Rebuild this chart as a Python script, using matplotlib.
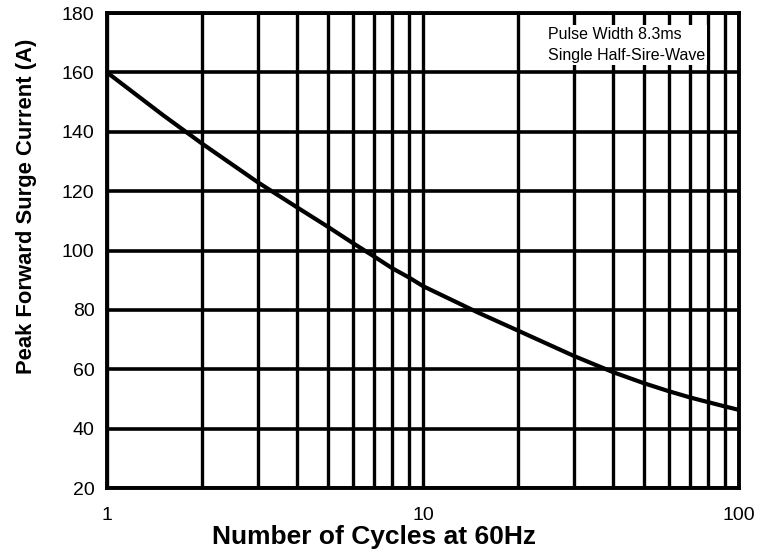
import matplotlib
matplotlib.use("Agg")
import matplotlib.pyplot as plt
from matplotlib.ticker import FixedLocator, NullFormatter

plt.rcParams['font.family'] = ['Liberation Sans', 'DejaVu Sans']

# surge current vs. number of cycles
cycles = [1, 1.5, 2, 3, 4, 5, 6, 7, 8, 9, 10, 15, 20, 30, 40, 50, 60, 70, 80, 90, 100]
current = [160, 145.7, 136, 123, 114.5, 108, 102.5, 98, 94, 91, 88, 79, 73, 64.5,
           59, 55.3, 52.6, 50.5, 48.9, 47.5, 46.3]

yticks = [20, 40, 60, 80, 100, 120, 140, 160, 180]
xticks = [1, 10, 100]
xminor = [2, 3, 4, 5, 6, 7, 8, 9, 20, 30, 40, 50, 60, 70, 80, 90]

fig = plt.figure(figsize=(7.69, 5.56), dpi=100)
ax = fig.add_axes([0.1391, 0.1223, 0.8219, 0.8543])

ax.set_xscale('log')
ax.set_xlim(1, 100)
ax.set_ylim(20, 180)
ax.set_xticks(xticks)
ax.set_xticklabels(['1', '10', '100'])
ax.xaxis.set_minor_locator(FixedLocator(xminor))
ax.xaxis.set_minor_formatter(NullFormatter())
ax.set_yticks(yticks)

ax.grid(True, which='major', axis='y', color='black', lw=2.6)
ax.grid(True, which='both', axis='x', color='black', lw=2.4)
ax.tick_params(which='both', length=0)
ax.tick_params(axis='x', pad=14, labelsize=14)
ax.tick_params(axis='y', pad=9, labelsize=14)
for s in ax.spines.values():
    s.set_linewidth(2.8)

ax.plot(cycles, current, color='black', lw=3, solid_joinstyle='round', zorder=3)

ax.text(0.698, 0.97, 'Pulse Width 8.3ms\nSingle Half-Sire-Wave', transform=ax.transAxes,
        ha='left', va='top', fontsize=11.5, linespacing=1.5, zorder=4,
        bbox=dict(facecolor='white', edgecolor='none', pad=1.5))

ax.set_xlabel('Number of Cycles at 60Hz', fontsize=19, fontweight='bold')
ax.set_ylabel('Peak Forward Surge Current (A)', fontsize=15.8, fontweight='bold')
ax.xaxis.set_label_coords(0.423, -0.103)
ax.yaxis.set_label_coords(-0.128, 0.594)
ax.xaxis.label.set_va('center')
ax.yaxis.label.set_va('center')

fig.savefig('out.png', dpi=100)
